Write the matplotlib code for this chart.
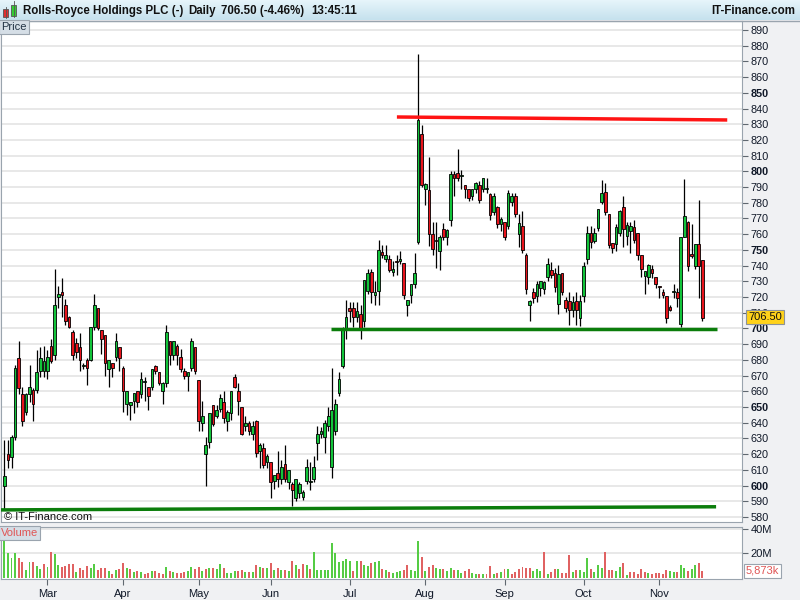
import numpy as np
import pandas as pd
import matplotlib
matplotlib.use("Agg")
import matplotlib.pyplot as plt
import matplotlib.transforms as mtransforms
from matplotlib.patches import Rectangle

plt.rcParams['font.family'] = ['Liberation Sans', 'DejaVu Sans']

# daily OHLC, Rolls-Royce, 12 Feb 2016 -> 17 Nov 2016 (pence)
opens = [600, 620, 618, 631, 681, 658, 647, 658, 661, 661,
         673, 673, 673, 689, 683, 720, 723, 715, 707, 698,
         691, 688, 676, 680, 680, 701, 713, 699, 696, 674,
         678, 682, 688, 675, 652, 651, 654, 660, 658, 666,
         663, 663, 676, 672, 660, 665, 692, 683, 689, 682,
         673, 670, 675, 688, 667, 640, 620, 628, 651, 644,
         649, 653, 641, 646, 669, 660, 650, 638, 640, 633,
         641, 622, 624, 615, 615, 603, 608, 604, 614, 602,
         601, 592, 595, 593, 603, 602, 604, 627, 633, 631,
         638, 612, 635, 659, 676, 699, 713, 713, 707, 709,
         705, 724, 736, 721, 724, 748.5, 744, 744.5, 736, 743,
         743, 741.5, 715, 721, 728.5, 755, 824, 789, 788, 760,
         756, 749, 763, 758, 769, 798, 799, 797, 791, 788.5,
         784, 788.5, 791, 789, 788.5, 785.5, 774, 777.5, 766.5, 768,
         765, 780.5, 784.5, 760, 765, 747, 715, 723.5, 720.5, 725.5,
         725, 732.5, 737, 735.5, 715.5, 735, 718, 717.5, 712, 717.5,
         706.5, 720.5, 744, 761, 755.5, 764, 780.5, 787, 773, 754.5,
         753.5, 761, 777, 759, 762, 764.5, 761, 746.5, 733.5, 733,
         738, 732.5, 726.7, 723.5, 720.5, 713.5, 723, 723, 703, 758.5,
         768, 747.5, 740, 754, 743.5]
highs = [629, 629, 632, 677, 692, 663, 659, 677, 662, 686,
         688, 689, 686, 693, 738, 727, 732, 719, 708, 699,
         694, 697, 678, 681, 701, 722, 713, 699, 696, 680,
         678, 697, 688, 676, 660, 653, 659, 660, 672, 669,
         663, 674, 677, 672, 666, 702, 692, 692, 690, 687,
         675, 672, 694, 688, 667, 654, 631, 646, 651, 651,
         658, 660, 648, 660, 671, 665, 650, 644, 641, 641,
         642, 627, 627, 620, 615, 607, 622, 616, 626, 610,
         602, 604, 602, 597, 617, 615, 619, 638, 637, 642,
         650, 675, 655, 672, 701, 718, 717, 717, 717, 715,
         731, 738, 738, 730, 756, 753, 753, 747, 743, 747,
         749, 741.5, 718, 728.5, 748, 875, 829.5, 792.5, 809, 768,
         767.5, 759.5, 767, 763, 800, 800, 814.5, 801, 791.5, 789,
         789, 793, 794, 796, 795.5, 786, 786, 778, 771, 768,
         788, 786, 786, 773, 775, 748, 718, 726, 730, 730,
         730, 745, 742.5, 738.5, 740.5, 735, 720, 723.5, 720.5, 723.5,
         721.5, 742, 765.5, 765, 764, 776, 794.5, 792.5, 773, 754.5,
         766.5, 775.5, 784.5, 767.5, 767.5, 769, 761, 746.5, 736.5, 741,
         740.5, 732.5, 727.2, 725, 720.5, 715, 728, 726, 758, 795,
         768.5, 766.5, 753.5, 781.5, 743.5]
lows = [585, 611, 611, 629, 658, 638, 645, 653, 641, 659,
        669, 669, 668, 678, 680, 713, 707, 702, 700, 680,
        681, 673, 674, 664, 679, 699, 699, 684, 670, 663,
        669, 679, 673, 647, 645, 642, 646, 650, 656, 654,
        648, 661, 671, 664, 652, 663, 677, 680, 677, 672,
        668, 660, 673, 671, 635, 635, 600, 624, 638, 643,
        647, 640, 635, 642, 662, 645, 632, 635, 632, 629,
        618, 611, 611, 611, 592, 598, 599, 601, 602, 598,
        587, 590, 592, 591, 601, 597, 602, 616, 630, 621,
        635, 605, 632, 657, 675, 693, 704, 701, 704, 693,
        701, 722, 716, 715, 715, 745, 742, 736, 733.5, 734,
        741, 719, 708, 716, 726, 754, 790, 778.5, 752.5, 746.5,
        738.5, 737, 756, 753, 765, 784, 794, 789, 783, 781,
        782, 786, 780, 787, 786, 769, 772, 764, 762, 756,
        763, 778, 771, 752, 748, 722, 705, 716, 717, 720.5,
        722, 730, 732, 723, 709, 721.5, 710.5, 702, 707.5, 702.5,
        701.5, 717, 741, 751, 754.5, 762, 779, 772.5, 751, 748,
        749, 759, 752, 753, 748, 754.5, 743.5, 733, 722, 728,
        732, 725.5, 719.3, 719.5, 703.5, 711, 719.5, 713.5, 701, 758.5,
        736.5, 745, 738, 719.5, 704.5]
closes = [606, 616, 631, 675, 662, 641, 658, 663, 652, 672,
          681, 679, 682, 679, 715, 722, 721, 705, 701, 683,
          685, 680, 677, 675, 701, 715, 700, 693, 678, 680,
          675, 692, 681, 660, 660, 653, 659, 653, 668, 666.5,
          657, 674, 673, 665.5, 665, 698, 683, 692, 683, 674,
          670, 672, 692, 673, 641, 644, 626, 646, 639, 648,
          656, 643, 647, 660, 663, 654, 633, 640, 635, 638,
          621, 626, 613, 619, 602, 607, 604, 612, 604, 610,
          597, 604, 601, 596, 612, 602.5, 612, 633, 635, 640,
          644, 648, 652, 668, 700, 707, 711, 707, 711, 700,
          731, 735, 723, 723.5, 750, 747, 747, 737, 738, 742.5,
          744.5, 721.5, 718, 728.5, 735, 833, 791, 792, 760, 750.5,
          755.5, 758.5, 758, 762.5, 798, 796, 796, 797.5, 788.5, 783,
          788.5, 792.5, 782, 795.5, 788.5, 772, 784.5, 766.5, 769.5, 758.5,
          786.5, 784.5, 773, 767, 750, 725, 717.5, 719.5, 728, 730,
          729.5, 741, 734, 726.5, 734.5, 723, 713, 711.5, 717, 711.5,
          717.5, 739.5, 761, 755, 760.5, 776, 786, 774, 753, 751.5,
          764.5, 774.5, 763, 766, 765.5, 756.5, 746.5, 738, 736.5, 740.5,
          735, 728, 726.3, 721, 706.5, 712, 723.2, 719.5, 758, 771.5,
          739.5, 746, 753.5, 739.5, 706.5]
# volume, millions of shares
volumes = [32, 20.7, 16.6, 20.7, 16.6, 13.3, 6.5, 12.8, 12.8, 9.8,
           7.3, 11.4, 9.3, 21.5, 19.9, 10.6, 9.3, 9.8, 11.4, 11.4,
           5.2, 7.9, 6.5, 9.8, 7.9, 11.4, 6.5, 8.2, 8.2, 6.0,
           3.3, 6.5, 7.1, 12.5, 7.9, 7.1, 5.2, 5.8, 5.2, 3.3,
           4.4, 6.0, 5.8, 4.4, 3.3, 8.7, 5.4, 5.2, 4.4, 4.4,
           4.6, 6.0, 8.7, 7.1, 8.7, 5.8, 7.1, 7.9, 8.4, 7.1,
           11.4, 7.9, 3.8, 4.4, 5.7, 5.7, 6.5, 5.2, 4.6, 4.6,
           10.6, 9.3, 7.9, 8.4, 12.5, 6.5, 7.9, 6.5, 6.5, 6.0,
           13.9, 10.6, 7.3, 11.4, 10.6, 7.3, 21.5, 6.5, 6.5, 6.5,
           6.5, 28.3, 20.7, 13.3, 13.9, 15.5, 13.9, 6.0, 13.9, 13.9,
           10.6, 9.8, 12.5, 13.3, 13.9, 7.1, 6.5, 5.2, 4.4, 5.2,
           5.7, 6.5, 10.6, 6.5, 5.7, 30.2, 17.4, 6.0, 8.7, 10.6,
           7.9, 7.1, 7.1, 5.7, 7.9, 6.5, 6.5, 3.8, 5.7, 7.3,
           3.8, 3.3, 3.3, 3.3, 3.3, 9.8, 3.3, 4.4, 5.2, 7.3,
           7.3, 3.3, 5.2, 7.3, 8.7, 8.4, 8.4, 5.7, 7.3, 5.7,
           21.5, 3.3, 5.2, 7.3, 7.3, 4.4, 3.8, 18.8, 5.2, 6.5,
           6.5, 5.2, 16.6, 7.3, 5.2, 10.6, 7.9, 21.5, 6.5, 6.5,
           5.7, 9.3, 12.0, 2.7, 5.2, 5.2, 3.3, 7.3, 5.2, 3.8,
           3.3, 4.4, 4.4, 3.3, 6.5, 5.7, 5.2, 5.2, 10.6, 7.9,
           6.0, 7.3, 10.6, 12.5, 5.873]

uk_holidays = ['2016-03-25', '2016-03-28', '2016-05-02', '2016-05-30', '2016-08-29']
month_names = ['Mar', 'Apr', 'May', 'Jun', 'Jul', 'Aug', 'Sep', 'Oct', 'Nov']
header_parts = ['Rolls-Royce Holdings PLC (-)', 'Daily', '706.50 (-4.46%)', '13:45:11']

# hand drawn trend lines: (start index, start price, end index, end price)
red_line = (109.1, 834.6, 200.9, 832.7)
green_top = (90.8, 699.5, 198.1, 699.5)
green_bottom = (-1.2, 584.5, 197.8, 586.5)

days = pd.bdate_range('2016-02-12', '2016-12-30')
days = days[~days.isin(pd.to_datetime(uk_holidays))][:len(closes)]
x = np.arange(len(closes))
month_start = [i for i in range(1, len(days)) if days[i].month != days[i - 1].month]

o = np.array(opens)
c = np.array(closes)
up = c >= o
vol_up = np.concatenate([[True], c[1:] >= c[:-1]])

W, H = 800, 600
fig = plt.figure(figsize=(8, 6), dpi=100, facecolor='#f0f1f3')
border = '#9aa4ae'
xmin, xmax = -0.92, 205.0

# header strip
hax = fig.add_axes([0, 1 - 20 / H, 1, 20 / H])
grad = np.linspace(0, 1, 20).reshape(-1, 1)
hax.imshow(grad, aspect='auto', cmap=matplotlib.colors.LinearSegmentedColormap.from_list('h', ['#e6f4fa', '#c6e2ee']),
           extent=[0, 1, 0, 1])
hax.set_xlim(0, 1)
hax.set_ylim(0, 1)
hax.axis('off')
hax.add_patch(Rectangle((3 / W, 0.15), 5 / W, 0.38, fc='#e03030', ec='#555555', lw=0.6))
hax.plot([5.5 / W, 5.5 / W], [0.1, 0.65], color='#555555', lw=0.6, zorder=1)
hax.add_patch(Rectangle((11 / W, 0.22), 5 / W, 0.55, fc='#33cc33', ec='#555555', lw=0.6))
hax.plot([13.5 / W, 13.5 / W], [0.15, 0.95], color='#555555', lw=0.6, zorder=1)
for txt, px in zip(header_parts, [23, 188, 221, 311]):
    fig.text(px / W, 1 - 11 / H, txt, fontsize=8.3, fontweight='bold', color='#111111', va='center')
fig.text(795 / W, 1 - 11 / H, 'IT-Finance.com', fontsize=8.3, fontweight='bold', color='#111111',
         va='center', ha='right')
fig.add_artist(plt.Line2D([0, 1], [1 - 20.5 / H, 1 - 20.5 / H], color=border, lw=1))

# price panel
ax = fig.add_axes([1 / W, 1 - 522 / H, 741 / W, 501 / H])
ax.set_xlim(xmin, xmax)
ax.set_ylim(576.8, 895.7)
for p in range(580, 891, 10):
    ax.axhline(p, color='#e2e2e2', lw=1.1, zorder=0)
ax.vlines(x, lows, highs, color='black', lw=0.9, zorder=2)
body_h = np.maximum(np.abs(c - o), 0.7)
ax.bar(x, body_h, bottom=np.minimum(o, c), width=0.74,
       color=np.where(up, '#12c43a', '#e8141c'), edgecolor='black', linewidth=0.6, zorder=3)
for (x0, y0, x1, y1), col in [(red_line, '#ff1414'), (green_top, '#0b7d0b'), (green_bottom, '#0b7d0b')]:
    ax.plot([x0, x1], [y0, y1], color=col, lw=2.5, solid_capstyle='butt', zorder=4)
ax.yaxis.tick_right()
ax.set_yticks(range(580, 891, 10))
ax.set_yticklabels([str(p) for p in range(580, 891, 10)])
for lab, p in zip(ax.get_yticklabels(), range(580, 891, 10)):
    if p % 50 == 0:
        lab.set_fontweight('bold')
        lab.set_fontsize(9)
ax.tick_params(axis='y', direction='out', length=4, width=0.8, colors='#606870', labelcolor='#101828',
               labelsize=7.8, pad=2)
ax.set_xticks([])
for s in ax.spines.values():
    s.set_color(border)
blend = mtransforms.blended_transform_factory(ax.transAxes, ax.transData)
ax.text(1 + 6 / 741, closes[-1] + 1, '%.2f' % closes[-1], transform=blend, fontsize=8, va='center', ha='left',
        color='#111111', bbox=dict(boxstyle='square,pad=0.18', fc='#ffd21a', ec='#8c9298', lw=0.8), zorder=6)
ax.text(3 / 741, 5 / 501, '© IT-Finance.com', transform=ax.transAxes, fontsize=8, color='#111111',
        va='center', ha='left', zorder=5)
fig.text(1 / W, 1 - 27 / H, 'Price', fontsize=8, color='#223344', va='center', ha='left',
         bbox=dict(boxstyle='square,pad=0.2', fc='#d5dee6', ec='#9aa4ae', lw=0.8))

# volume panel
vax = fig.add_axes([1 / W, 1 - 579 / H, 741 / W, 52 / H])
vax.set_xlim(xmin, xmax)
vax.set_ylim(-0.8, 41.6)
for v in (20, 40):
    vax.axhline(v, color='#e2e2e2', lw=1.1, zorder=0)
vax.bar(x, volumes, width=0.55, color=np.where(vol_up, '#55cc44', '#e06262'), zorder=2)
vax.yaxis.tick_right()
vax.set_yticks([20, 40])
vax.set_yticklabels(['20M', '40M'])
vax.tick_params(axis='y', direction='out', length=4, width=0.8, colors='#606870', labelcolor='#101828',
                labelsize=8, pad=2)
vax.set_xticks(month_start)
vax.set_xticklabels(month_names)
vax.tick_params(axis='x', direction='out', length=4, width=0.8, colors='#606870', labelcolor='#101828',
                labelsize=8, pad=3)
for s in vax.spines.values():
    s.set_color(border)
vblend = mtransforms.blended_transform_factory(vax.transAxes, vax.transData)
vax.text(1 + 4 / 741, volumes[-1], '5,873k', transform=vblend, fontsize=8, va='center', ha='left',
         color='#e05555', bbox=dict(boxstyle='square,pad=0.18', fc='white', ec='#9aa4ae', lw=0.8))
fig.text(1 / W, 1 - 533 / H, 'Volume', fontsize=8, color='#e05555', va='center', ha='left',
         bbox=dict(boxstyle='square,pad=0.2', fc='#d5dee6', ec='#9aa4ae', lw=0.8))

fig.savefig('out.png', dpi=100, facecolor=fig.get_facecolor())
